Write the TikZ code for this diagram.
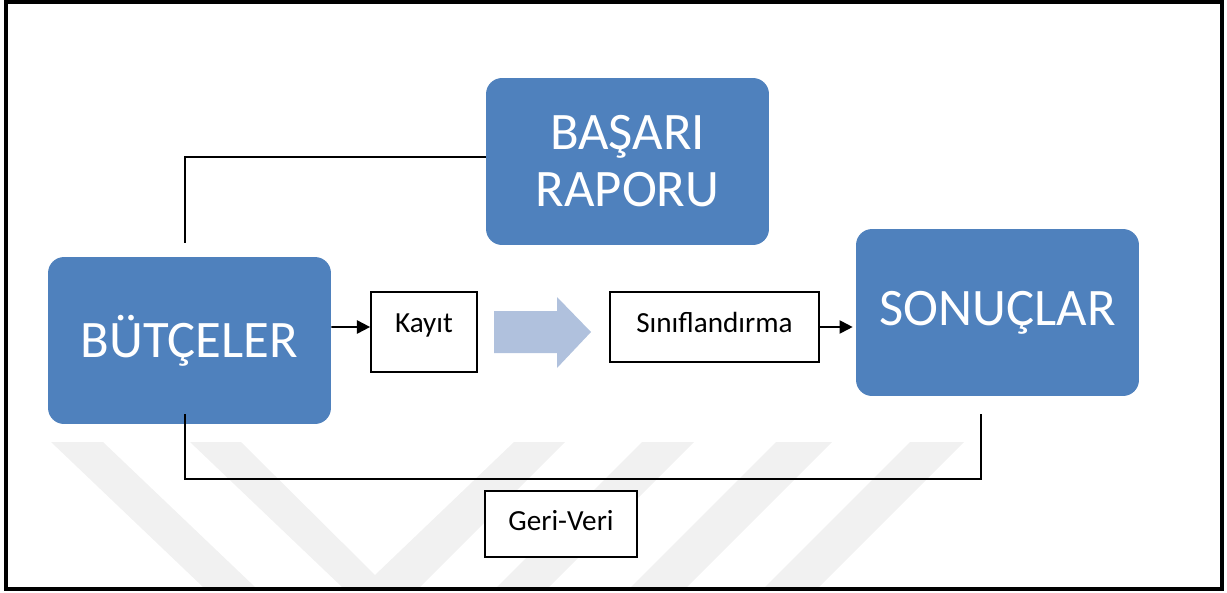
\documentclass[tikz,border=0pt]{standalone}
\usepackage{fontspec}
\setmainfont{Carlito}
\usepackage{tikz}
\usetikzlibrary{arrows.meta}
\definecolor{boxblue}{HTML}{4F81BD}
\definecolor{arrowblue}{HTML}{B0C1DD}
\definecolor{markgray}{HTML}{F1F1F1}
\tikzset{
bigbox/.style={rectangle, rounded corners=0.32cm, fill=boxblue, text=white,
  minimum width=5.66cm, minimum height=3.34cm, align=center,
  font=\fontsize{30}{32.5}\selectfont},
smallbox/.style={rectangle, draw, line width=1pt, fill=white, inner sep=0pt,
  font=\fontsize{16.6}{19}\selectfont},
link/.style={line width=1.1pt},
arr/.style={line width=1.1pt, -{Triangle[length=7.5pt,width=7.5pt]}}
}

\begin{document}
\begin{tikzpicture}[x=0.02cm, y=-0.02cm]
    \useasboundingbox (0,0) rectangle (1227,592);

                % faint background marks
                \fill[markgray] (51,442) -- (103,442) -- (255,587) -- (203,587) -- cycle;
                \fill[markgray] (190,442) -- (241,442) -- (375,575) -- (514,442) -- (565,442) -- (420,587) -- (342,587) -- cycle;
                \fill[markgray] (642,442) -- (694,442) -- (549,587) -- (497,587) -- cycle;
                \fill[markgray] (776,442) -- (832,442) -- (687,587) -- (631,587) -- cycle;
                \fill[markgray] (910,442) -- (964,442) -- (819,587) -- (765,587) -- cycle;

                \node[bigbox] (but) at (189.5,340.5) {BÜTÇELER};
                \node[bigbox] (bas) at (627.5,161.5) {BAŞARI\\RAPORU};
                \node[bigbox] (son) at (997.5,312.5) {SONUÇLAR};
                \node[smallbox, minimum width=2.12cm, text height=0.8cm, text depth=0.8cm] (kayit) at (424,332) {Kayıt};
                \node[smallbox, minimum width=4.18cm, text height=0.8cm, text depth=0.6cm] (sinif) at (714.5,327) {Sınıflandırma\hspace{0.15cm}};
                \node[smallbox, minimum width=3.04cm, text height=0.78cm, text depth=0.54cm] (geri) at (561,524) {Geri-Veri};

                \fill[arrowblue] (494,311) -- (557,311) -- (557,297) -- (591,332) -- (557,368) -- (557,353) -- (494,353) -- cycle;

                \draw[link] ([xshift=-0.09cm,yshift=0.28cm]but.north) |- ([yshift=0.09cm]bas.west);
                \draw[link] ([xshift=-0.09cm,yshift=0.2cm]but.south) -- ++(0,65) -| ([xshift=-0.33cm,yshift=-0.36cm]son.south);
                \draw[arr] ([yshift=0.27cm]but.east) -- ([yshift=0.1cm]kayit.west);
                \draw[arr] (sinif.east) -- ([xshift=-0.06cm,yshift=-0.29cm]son.west);

                \draw[line width=2.2pt] (6,2) rectangle (1222,589);

            \end{tikzpicture}
\end{document}
